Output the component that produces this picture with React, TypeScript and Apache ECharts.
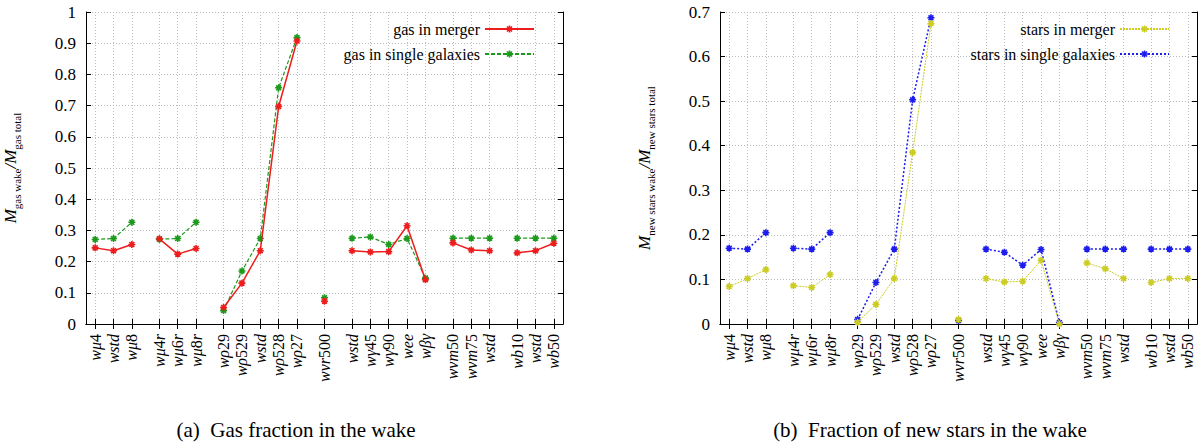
import { useEffect, useRef } from 'react';
import * as echarts from 'echarts';

// simulation runs, grouped as on the x axis
const runGroups: string[][] = [
  ['wμ4', 'wstd', 'wμ8'],
  ['wμ4r', 'wμ6r', 'wμ8r'],
  ['wρ29', 'wρ529', 'wstd', 'wρ528', 'wρ27'],
  ['wvr500'],
  ['wstd', 'wγ45', 'wγ90', 'wee', 'wβγ'],
  ['wvm50', 'wvm75', 'wstd'],
  ['wb10', 'wstd', 'wb50'],
];

const gasMerger = [
  0.244, 0.235, 0.255, 0.273, 0.224, 0.242, 0.053, 0.131, 0.235, 0.697, 0.907, 0.073,
  0.235, 0.231, 0.232, 0.315, 0.142, 0.26, 0.237, 0.235, 0.228, 0.235, 0.259,
];
const gasSingle = [
  0.271, 0.274, 0.326, 0.272, 0.274, 0.326, 0.043, 0.17, 0.274, 0.757, 0.918, 0.084,
  0.275, 0.279, 0.255, 0.274, 0.147, 0.275, 0.275, 0.275, 0.275, 0.275, 0.275,
];
const starsMerger = [
  0.084, 0.102, 0.122, 0.086, 0.082, 0.111, 0.004, 0.044, 0.102, 0.385, 0.674, 0.01,
  0.102, 0.094, 0.096, 0.143, 0.0, 0.137, 0.124, 0.102, 0.093, 0.102, 0.102,
];
const starsSingle = [
  0.17, 0.168, 0.205, 0.17, 0.168, 0.205, 0.01, 0.093, 0.168, 0.503, 0.687, 0.008,
  0.168, 0.161, 0.132, 0.167, 0.003, 0.168, 0.168, 0.168, 0.168, 0.168, 0.168,
];

const gasTicks = { max: 1, step: 0.1 };
const starTicks = { max: 0.7, step: 0.1 };

const SERIF = 'Liberation Serif';
const STAR = 'path://M0,5L10,5M5,0L5,10M1.5,1.5L8.5,8.5M8.5,1.5L1.5,8.5';

// half-unit slots: one unit between runs, 1.5 units between groups
const slots: string[] = [''];
const runSlot: number[] = [];
const breakSlot: number[] = [];
runGroups.forEach((g, gi) => {
  if (gi > 0) {
    breakSlot.push(slots.length);
    slots.push('', '');
  }
  g.forEach((lab, li) => {
    if (li > 0) slots.push('');
    runSlot.push(slots.length);
    slots.push(lab);
  });
});
slots.push('');

function toSeries(values: number[]) {
  const out: (number | null)[][] = [];
  let k = 0;
  runGroups.forEach((g, gi) => {
    if (gi > 0) out.push([breakSlot[gi - 1], null]);
    g.forEach(() => {
      out.push([runSlot[k], values[k]]);
      k++;
    });
  });
  return out;
}

const isRun = (_i: number, v: string) => v !== '';

function xAxis(gridIndex: number, position: 'bottom' | 'top') {
  const bottom = position === 'bottom';
  return {
    type: 'category',
    gridIndex,
    position,
    data: slots,
    boundaryGap: false,
    axisLine: { show: true, lineStyle: { color: '#000', width: 1 } },
    axisTick: { show: true, inside: true, length: 5, interval: isRun, lineStyle: { color: '#000' } },
    axisLabel: bottom
      ? {
          show: true,
          interval: isRun,
          rotate: 90,
          margin: 10,
          color: '#000',
          fontFamily: SERIF,
          fontSize: 16,
          formatter: (v: string) =>
            v.replace(/([^0-9]+)|([0-9]+)/g, (_m, a, b) => (a ? `{i|${a}}` : `{n|${b}}`)),
          rich: {
            i: { fontStyle: 'italic', fontFamily: SERIF, fontSize: 16, color: '#000' },
            n: { fontFamily: SERIF, fontSize: 16, color: '#000' },
          },
        }
      : { show: false },
    splitLine: bottom
      ? { show: true, interval: isRun, lineStyle: { color: '#bdbdbd', width: 1, type: [1, 2] } }
      : { show: false },
  };
}

function yAxis(gridIndex: number, position: 'left' | 'right', ticks: { max: number; step: number }, name?: string) {
  const left = position === 'left';
  return {
    type: 'value',
    gridIndex,
    position,
    min: 0,
    max: ticks.max,
    interval: ticks.step,
    name: left ? name : undefined,
    nameLocation: 'middle',
    nameRotate: 90,
    nameGap: 64,
    nameTextStyle: {
      color: '#000',
      fontFamily: SERIF,
      rich: {
        i: { fontStyle: 'italic', fontSize: 17, lineHeight: 24, fontFamily: SERIF, color: '#000' },
        s: { fontSize: 11, lineHeight: 11, verticalAlign: 'bottom', fontFamily: SERIF, color: '#000' },
        t: { fontSize: 17, lineHeight: 24, fontStyle: 'italic', fontFamily: SERIF, color: '#000' },
      },
    },
    axisLine: { show: true, lineStyle: { color: '#000', width: 1 } },
    axisTick: { show: true, inside: true, length: 5, lineStyle: { color: '#000' } },
    axisLabel: left
      ? { show: true, color: '#000', fontFamily: SERIF, fontSize: 17, margin: 10 }
      : { show: false },
    splitLine: left
      ? { show: true, lineStyle: { color: '#bdbdbd', width: 1, type: [1, 2] } }
      : { show: false },
  };
}

function lineSeries(
  name: string,
  values: number[],
  axis: number,
  color: string,
  type: any,
  width: number,
  z: number,
) {
  return {
    name,
    type: 'line',
    xAxisIndex: axis,
    yAxisIndex: axis,
    data: toSeries(values),
    symbol: STAR,
    symbolSize: 7,
    showAllSymbol: true,
    connectNulls: false,
    clip: false,
    z,
    lineStyle: { color, width, type },
    itemStyle: { color, borderColor: color, borderWidth: 1.6 },
  };
}

function legend(names: string[], right: number) {
  return {
    data: names,
    orient: 'vertical',
    right,
    top: 16,
    align: 'right',
    itemWidth: 49,
    itemHeight: 9,
    itemGap: 9,
    itemStyle: { borderWidth: 1.6 },
    textStyle: { color: '#000', fontFamily: SERIF, fontSize: 16 },
  };
}

function caption(text: string, x: number) {
  return {
    type: 'text',
    x,
    y: 430,
    style: {
      text,
      fill: '#000',
      fontFamily: SERIF,
      fontSize: 21,
      align: 'center',
      verticalAlign: 'middle',
    },
  };
}

export default function App() {
  const chartRef = useRef<HTMLDivElement>(null);

  useEffect(() => {
    if (!chartRef.current) return;
    document.body.style.margin = '0';
    const chart = echarts.init(chartRef.current, undefined, { renderer: 'svg' });

    const red = '#ee1c1c';
    const green = '#1b9a1b';
    const yellow = '#cccc22';
    const blue = '#1c1cee';

    chart.setOption({
      animation: false,
      backgroundColor: '#fff',
      textStyle: { fontFamily: SERIF },
      grid: [
        { left: 86, top: 12, width: 477, height: 312 },
        { left: 720, top: 12, width: 477, height: 312 },
      ],
      xAxis: [xAxis(0, 'bottom'), xAxis(0, 'top'), xAxis(1, 'bottom'), xAxis(1, 'top')],
      yAxis: [
        yAxis(0, 'left', gasTicks, '{i|M}{s|gas wake}{t|/}{i|M}{s|gas total}'),
        yAxis(0, 'right', gasTicks),
        yAxis(1, 'left', starTicks, '{i|M}{s|new stars wake}{t|/}{i|M}{s|new stars total}'),
        yAxis(1, 'right', starTicks),
      ],
      legend: [
        legend(['gas in merger', 'gas in single galaxies'], 660),
        legend(['stars in merger', 'stars in single galaxies'], 25),
      ],
      series: [
        lineSeries('gas in merger', gasMerger, 0, red, 'solid', 1.5, 4),
        lineSeries('gas in single galaxies', gasSingle, 0, green, [4, 2], 1.2, 3),
        lineSeries('stars in merger', starsMerger, 2, yellow, [2, 1], 1, 4),
        lineSeries('stars in single galaxies', starsSingle, 2, blue, [2, 2], 1.5, 3),
      ],
      graphic: [
        caption('(a)  Gas fraction in the wake', 296),
        caption('(b)  Fraction of new stars in the wake', 930),
      ],
    });

    return () => {
      chart.dispose();
    };
  }, []);

  return <div ref={chartRef} style={{ width: 1200, height: 444 }} />;
}
